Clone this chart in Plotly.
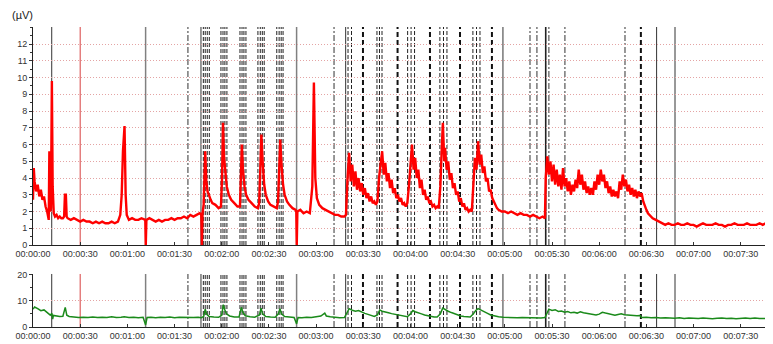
import plotly.graph_objects as go

# ---------------- data ----------------
tick_seconds = [0, 30, 60, 90, 120, 150, 180, 210, 240, 270, 300, 330, 360, 390, 420, 450]
tick_labels = ["00:00:00", "00:00:30", "00:01:00", "00:01:30", "00:02:00", "00:02:30",
               "00:03:00", "00:03:30", "00:04:00", "00:04:30", "00:05:00", "00:05:30",
               "00:06:00", "00:06:30", "00:07:00", "00:07:30"]

red_t = [0, 0.5, 1, 2, 3, 4, 5, 6, 7, 8,
         9, 10, 10.4, 10.9, 11.4, 12.0, 12.5, 13.2, 14, 15,
         16, 17, 18, 19, 19.8, 20.3, 20.9, 21.4, 22, 24,
         26, 28, 30, 32, 34, 36, 38, 40, 42, 44,
         46, 48, 50, 52, 54, 55.5, 56.4, 57.2, 58.2, 58.9,
         59.6, 61, 63, 65, 67, 69, 71, 71.4, 71.7, 72.1,
         74, 76, 78, 80, 82, 84, 86, 88, 90, 92,
         94, 96, 98, 100, 102, 104, 106, 107.0, 107.4, 107.8,
         108.5, 109.5, 110.2, 111, 112, 113, 114, 116, 118, 119.5,
         120.2, 120.8, 121.5, 122.3, 123.2, 124.5, 126, 128, 130, 131.6,
         132.2, 132.8, 133.5, 134.5, 135.5, 137, 139, 141, 143, 143.8,
         144.5, 145.2, 146, 147, 148, 149.5, 151, 153, 155, 155.8,
         156.5, 157.2, 158, 159, 160, 161.5, 163, 165, 167, 167.4,
         167.7, 168.1, 170, 172, 174, 176, 177.6, 178.6, 179.5, 180.5,
         182, 184, 186, 188, 190, 192, 194, 196, 198, 199,
         200, 201, 202, 203, 204, 205, 206, 207, 208, 209,
         210, 211, 212, 213, 214, 215, 216, 217, 218, 219,
         220, 221, 222, 223, 224, 225, 226, 227, 228, 229,
         230, 231, 232, 233, 234, 235, 236, 237, 238, 239,
         240, 241, 242, 243, 244, 245, 246, 247, 248, 249,
         250, 251, 252, 253, 254, 255, 256, 257, 258, 259,
         260, 260.6, 261.5, 262, 263, 264, 265, 266, 267, 268,
         269, 270, 271, 272, 273, 274, 275, 276, 277, 278,
         279, 280, 281, 282, 283, 284, 285, 286, 287, 288,
         289, 290, 291, 292, 293, 294, 295, 296, 298, 300,
         302, 304, 306, 308, 310, 312, 314, 316, 318, 320,
         322, 324, 325.5, 326, 327, 328, 329, 330, 331, 332,
         333, 334, 335, 336, 337, 338, 339, 340, 341, 342,
         343, 344, 345, 346, 347, 348, 349, 350, 351, 352,
         353, 354, 355, 356, 357, 358, 359, 360, 361, 362,
         363, 364, 365, 366, 367, 368, 369, 370, 371, 372,
         373, 374, 375, 376, 377, 378, 379, 380, 381, 382,
         383, 384, 385, 386, 387, 388, 389, 390, 391, 392,
         394, 396, 398, 400, 402, 404, 406, 408, 410, 412,
         414, 416, 418, 420, 422, 424, 426, 428, 430, 432,
         434, 436, 438, 440, 442, 444, 446, 448, 450, 452,
         454, 456, 458, 460, 462, 464, 466, 468]
red_v = [2.7, 4.6, 3.8, 3.2, 3.6, 2.9, 3.3, 2.7, 2.9, 2.3,
         2.0, 1.5, 5.6, 2.0, 2.2, 9.8, 3.5, 1.9, 1.7, 1.8,
         1.6, 1.7, 1.6, 1.6, 1.7, 3.0, 3.0, 1.7, 1.6, 1.5,
         1.6, 1.5, 1.4, 1.5, 1.4, 1.4, 1.3, 1.4, 1.3, 1.4,
         1.3, 1.3, 1.4, 1.3, 1.4, 1.8, 3.0, 5.6, 7.1, 3.0,
         1.8, 1.5, 1.6, 1.5, 1.5, 1.6, 1.5, 1.5, 0.0, 1.5,
         1.6, 1.5, 1.4, 1.5, 1.4, 1.5, 1.5, 1.6, 1.5, 1.6,
         1.6, 1.7, 1.6, 1.8, 1.7, 1.8, 1.9, 1.8, 0.0, 1.9,
         2.4, 5.6, 3.8, 3.2, 2.9, 2.7, 2.5, 2.4, 2.2, 2.3,
         4.0, 7.3, 5.2, 4.2, 3.5, 3.0, 2.7, 2.5, 2.3, 2.3,
         3.8, 6.0, 4.5, 3.5, 3.0, 2.7, 2.5, 2.3, 2.2, 2.5,
         4.5, 6.6, 5.0, 3.6, 3.0, 2.6, 2.4, 2.3, 2.2, 2.6,
         4.3, 6.3, 4.8, 3.6, 3.0, 2.6, 2.4, 2.2, 2.1, 2.0,
         0.0, 2.0, 2.1, 1.9, 2.0, 1.9, 3.5, 9.7, 4.0, 2.8,
         2.4, 2.2, 2.1, 2.0, 1.9, 1.8, 1.8, 1.7, 1.7, 1.8,
         4.0, 5.5, 3.8, 4.8, 3.5, 4.4, 3.3, 4.0, 3.2, 3.7,
         3.0, 3.4, 2.8, 3.1, 2.6, 2.9, 2.5, 2.6, 2.4, 2.6,
         4.0, 5.0, 5.6, 4.2, 4.9, 3.8, 4.3, 3.4, 3.9, 3.1,
         3.4, 2.8, 3.0, 2.6, 2.8, 2.4, 2.5, 2.3, 2.5, 3.5,
         5.0, 6.0, 4.5, 5.2, 4.0, 4.5, 3.4, 3.9, 3.0, 3.3,
         2.7, 2.9, 2.5, 2.6, 2.3, 2.4, 2.2, 2.3, 2.2, 3.5,
         6.0, 7.3, 5.0, 5.8, 4.5, 5.0, 3.9, 4.3, 3.4, 3.7,
         3.0, 3.2, 2.6, 2.8, 2.3, 2.5, 2.1, 2.2, 2.0, 2.1,
         2.0, 3.5, 5.2, 4.5, 6.2, 4.8, 5.4, 4.3, 4.7, 3.8,
         4.0, 3.2, 3.3, 2.8, 2.6, 2.3, 2.2, 2.1, 2.0, 2.0,
         1.9, 2.0, 1.9, 1.8, 1.9, 1.8, 1.8, 1.7, 1.8, 1.7,
         1.6, 1.7, 1.6, 4.0, 5.3, 4.2, 5.0, 3.8, 4.8, 3.6,
         4.5, 3.5, 4.2, 3.3, 4.6, 3.5, 4.0, 3.2, 3.8, 3.0,
         3.6, 3.2, 3.9, 3.4, 4.5, 3.6, 4.2, 3.3, 3.8, 3.1,
         3.5, 3.0, 3.4, 3.0, 3.8, 3.3, 4.2, 3.6, 4.5, 3.8,
         4.2, 3.4, 3.8, 3.1, 3.5, 2.9, 3.3, 2.9, 3.2, 2.8,
         3.8, 3.3, 4.2, 3.5, 3.9, 3.2, 3.6, 3.0, 3.4, 2.9,
         3.3, 2.8, 3.2, 2.9, 3.1, 2.6, 2.3, 2.1, 1.9, 1.8,
         1.6, 1.5, 1.4, 1.3, 1.2, 1.3, 1.2, 1.2, 1.3, 1.2,
         1.2, 1.3, 1.2, 1.2, 1.1, 1.2, 1.3, 1.2, 1.2, 1.2,
         1.3, 1.2, 1.2, 1.1, 1.2, 1.2, 1.3, 1.2, 1.2, 1.2,
         1.3, 1.2, 1.2, 1.2, 1.3, 1.2, 1.3, 1.2]

green_t = [0, 1, 3, 5, 7, 9, 10, 11, 12, 12.5,
           13, 15, 17, 19, 20.5, 21.5, 23, 26, 29, 32,
           35, 38, 41, 44, 47, 50, 53, 56, 58, 61,
           64, 67, 70, 71.6, 72.5, 75, 78, 81, 84, 87,
           90, 93, 96, 99, 102, 105, 107, 108.5, 109.5, 110.5,
           112, 115, 118, 120, 121, 122, 123, 125, 128, 131,
           132.5, 133.5, 135, 138, 141, 144, 145, 146, 148, 151,
           154, 156, 157, 158, 160, 163, 166, 167.6, 168.5, 171,
           174, 177, 180, 183, 185.5, 186.5, 189, 192, 195, 198,
           199.5, 201, 203, 205, 207, 209, 211, 213, 215, 217,
           219, 220.5, 222, 224, 226, 228, 230, 232, 234, 236,
           238, 240, 241.5, 243, 245, 247, 249, 251, 253, 255,
           257, 259, 260.5, 262, 264, 266, 268, 270, 272, 274,
           276, 278, 280, 281.5, 283, 285, 287, 289, 291, 293,
           296, 299, 302, 305, 308, 311, 314, 317, 320, 323,
           325.5, 327, 328, 330, 332, 334, 336, 338, 340, 342,
           344, 346, 348, 350, 352, 354, 356, 358, 360, 362,
           364, 366, 368, 370, 372, 374, 376, 378, 380, 382,
           384, 386, 387, 390, 393, 396, 399, 402, 405, 408,
           411, 414, 417, 420, 423, 426, 429, 432, 435, 438,
           441, 444, 447, 450, 453, 456, 459, 462, 465, 468]
green_v = [6.8, 7.6, 7.0, 6.2, 6.5, 5.6, 5.0, 4.5, 5.2, 3.0,
           4.4, 4.2, 4.0, 4.1, 7.5, 4.5, 4.0, 3.8, 3.6, 3.7,
           3.6, 3.8, 3.6, 3.7, 3.6, 3.9, 3.6, 3.7, 3.9, 3.6,
           3.7, 3.5, 3.7, 0.8, 3.6, 3.7, 3.5, 3.7, 3.6, 3.8,
           3.5, 3.7, 3.6, 3.7, 3.6, 3.7, 3.5, 4.0, 6.8, 4.8,
           4.0, 3.8, 3.7, 4.5, 8.5, 6.5, 5.0, 4.2, 3.8, 3.8,
           7.5, 5.5, 4.3, 3.9, 3.7, 4.6, 7.2, 5.0, 4.0, 3.8,
           3.7, 5.0, 7.0, 5.0, 4.0, 3.8, 3.6, 1.2, 3.6, 3.5,
           3.7, 3.6, 3.8, 4.2, 5.3, 4.2, 3.9, 3.7, 3.5, 3.6,
           5.5, 7.0, 6.4, 6.0, 6.3, 5.6, 5.2, 4.8, 4.4, 4.0,
           4.6, 6.5, 6.0, 5.8, 5.4, 5.1, 4.8, 4.5, 4.2, 4.0,
           3.9, 5.0, 6.3, 5.8, 5.5, 5.0, 4.6, 4.3, 4.0, 3.8,
           3.8, 5.0, 7.2, 6.6, 6.0, 5.5, 5.0, 4.5, 4.2, 4.0,
           3.9, 3.8, 5.0, 6.3, 7.0, 6.5, 5.8, 5.2, 4.6, 4.2,
           3.9, 3.7, 3.6, 3.7, 3.5, 3.6, 3.5, 3.4, 3.5, 3.4,
           3.6, 6.0, 6.8, 6.3, 6.6, 5.9, 6.1, 5.6, 5.9, 5.4,
           5.6, 5.3, 5.8, 5.4, 5.2, 5.0, 4.8, 4.6, 4.9, 5.6,
           5.3, 5.0, 4.7, 4.5, 4.8, 5.0, 4.7, 4.6, 4.4, 4.5,
           4.3, 4.4, 3.6, 3.7, 3.5, 3.6, 3.4, 3.5, 3.4, 3.3,
           3.5, 3.2, 3.4, 3.3, 3.2, 3.4, 3.3, 3.1, 3.3, 3.4,
           3.2, 3.3, 3.1, 3.3, 3.4, 3.2, 3.4, 3.2, 3.3, 3.2]

# event markers (seconds)
events_solid_black = [11.9, 106.8, 198.8, 298.8, 396.5, 408.2]
events_solid_thick = [326.0]
events_solid_grey = [71.6, 167.6]
events_solid_red = [30.0]
events_dashdot = [98.5, 191.4, 316.0, 320.4, 328.0, 338.2, 376.4]
events_heavy = [209.8, 231.8, 252.4, 271.5, 291.8, 386.5]
events_group = [108.3, 109.5, 110.8, 112.1, 119.5, 120.8, 122.0, 123.3,
                131.6, 132.9, 134.1, 135.4, 143.0, 144.5, 145.8, 147.0,
                155.0, 156.5, 157.8, 159.0, 200.3, 202.5, 218.7, 220.3, 221.9,
                238.2, 240.4, 242.6, 258.7, 261.0, 263.2, 279.7, 282.0, 284.2]

# ---------------- figure ----------------
fig = go.Figure()
fig.add_trace(go.Scatter(x=red_t, y=red_v, mode="lines", xaxis="x", yaxis="y",
                         line=dict(color="#ff0000", width=2.4), showlegend=False))
fig.add_trace(go.Scatter(x=green_t, y=green_v, mode="lines", xaxis="x2", yaxis="y2",
                         line=dict(color="#1a8a1a", width=1.5), showlegend=False))

styles = [
    (events_solid_black, dict(color="#333333", width=1)),
    (events_solid_thick, dict(color="#222222", width=1.6)),
    (events_solid_grey, dict(color="#808080", width=1.5)),
    (events_solid_red, dict(color="#d84040", width=1)),
    (events_dashdot, dict(color="#555555", width=1.2, dash="6px,2px,2px,2px")),
    (events_heavy, dict(color="#111111", width=2, dash="5px,3px")),
    (events_group, dict(color="#222222", width=1, dash="4px,2px")),
]
shapes = []
for xs, ln in styles:
    for t in xs:
        for xr, yr in (("x", "y domain"), ("x2", "y2 domain")):
            shapes.append(dict(type="line", xref=xr, yref=yr, x0=t, x1=t, y0=0, y1=1,
                               line=ln, layer="below"))

tickfont = dict(family="Liberation Sans, Arial, sans-serif", size=9, color="#333333")
grid = dict(showgrid=True, gridcolor="#e4a4a4", griddash="1px,2px", gridwidth=1)
xcommon = dict(range=[0, 468.6], tickmode="array", tickvals=tick_seconds, ticktext=tick_labels,
               ticks="inside", ticklen=3, tickcolor="#333", showgrid=False, zeroline=False,
               showline=True, linecolor="#222", linewidth=1, tickfont=tickfont, automargin=False)

fig.update_layout(
    width=765, height=336,
    margin=dict(l=25, r=3, t=19, b=17),
    paper_bgcolor="white", plot_bgcolor="white",
    shapes=shapes,
    xaxis=dict(domain=[0, 1], anchor="y", **xcommon),
    xaxis2=dict(domain=[0, 1], anchor="y2", matches="x", **xcommon),
    yaxis=dict(domain=[0.2733, 1], anchor="x", range=[0, 13.02],
               tickvals=list(range(0, 13)), ticks="outside", ticklen=3, tickcolor="#333",
               minor=dict(dtick=0.5, ticklen=2, ticks="outside", tickcolor="#333", showgrid=False),
               showline=True, linecolor="#222", linewidth=1, zeroline=False,
               tickfont=tickfont, automargin=False, **grid),
    yaxis3=dict(overlaying="y", anchor="x", side="left", range=[0, 13.02],
                tickvals=list(range(0, 13)), ticks="inside", ticklen=3, tickcolor="#333",
                minor=dict(dtick=0.5, ticklen=2, ticks="inside", tickcolor="#333", showgrid=False),
                showticklabels=False, showgrid=False, zeroline=False, showline=False,
                automargin=False),
    yaxis2=dict(domain=[0, 0.1767], anchor="x2", range=[0, 20.2],
                tickvals=[0, 10, 20], ticks="outside", ticklen=3, tickcolor="#333",
                minor=dict(dtick=5, ticklen=2, ticks="outside", tickcolor="#333", showgrid=False),
                showline=True, linecolor="#222", linewidth=1, zeroline=False,
                tickfont=tickfont, automargin=False, **grid),
    yaxis4=dict(overlaying="y2", anchor="x2", side="left", range=[0, 20.2],
                tickvals=[0, 10, 20], ticks="inside", ticklen=3, tickcolor="#333",
                minor=dict(dtick=5, ticklen=2, ticks="inside", tickcolor="#333", showgrid=False),
                showticklabels=False, showgrid=False, zeroline=False, showline=False,
                automargin=False),
    annotations=[dict(text="(µV)", xref="paper", yref="paper", x=-23 / 737, y=1.04,
                      xanchor="left", yanchor="middle", showarrow=False,
                      font=dict(family="Liberation Sans, Arial, sans-serif", size=11, color="#222"))],
)

fig.write_html("out.html")
